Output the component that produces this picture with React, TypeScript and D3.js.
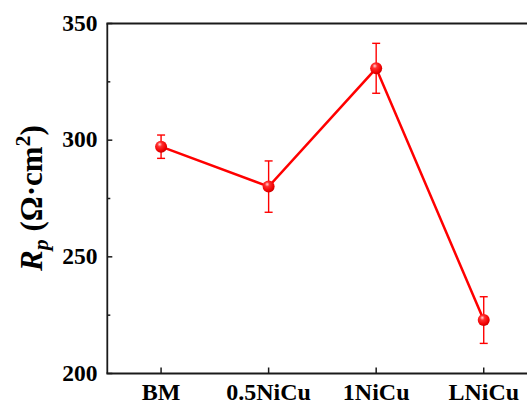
import React from 'react';
import * as d3 from 'd3';

const categories = ['BM', '0.5NiCu', '1NiCu', 'LNiCu'];
const rpValues = [297.2, 280.1, 330.8, 222.9];
const rpErrors = [5, 11, 10.7, 10];
const yTicks = [200, 250, 300, 350];
const yMinorTicks = [225, 275, 325];

export default function App() {
  const width = 527;
  const height = 403;
  const left = 107.3;
  const right = 537.5; // plot runs past the picture edge
  const top = 23.5;
  const bottom = 373.5;

  const x = d3.scalePoint<string>().domain(categories).range([left, right]).padding(0.5);
  const y = d3.scaleLinear().domain([200, 350]).range([bottom, top]);

  const data = categories.map((c, i) => ({ c, v: rpValues[i], e: rpErrors[i] }));
  const line = d3.line<{ c: string; v: number }>()
    .x(d => x(d.c)!)
    .y(d => y(d.v));

  const font = "'Liberation Serif', 'Times New Roman', serif";
  const axisColor = '#1a1a1a';
  const red = '#ff0000';

  return (
    <div style={{ position: 'fixed', left: 0, top: 0 }}>
      <svg width={width} height={height} style={{ display: 'block', background: '#fff', fontFamily: font }}>
        <defs>
          <radialGradient id="ball" cx="40%" cy="35%" r="65%" fx="38%" fy="30%">
            <stop offset="0%" stopColor="#ffd6d6" />
            <stop offset="30%" stopColor="#ff3030" />
            <stop offset="80%" stopColor="#f00000" />
            <stop offset="100%" stopColor="#c80000" />
          </radialGradient>
        </defs>

        {/* axes frame: left, bottom, top */}
        <line x1={left} x2={left} y1={top} y2={bottom} stroke={axisColor} strokeWidth={1.8} />
        <line x1={left - 0.9} x2={width} y1={bottom} y2={bottom} stroke={axisColor} strokeWidth={1.8} />
        <line x1={left - 0.9} x2={width} y1={top} y2={top} stroke={axisColor} strokeWidth={1.8} />

        {/* y ticks */}
        {yTicks.map(t => (
          <g key={t}>
            <line x1={left} x2={left + 5} y1={y(t)} y2={y(t)} stroke={axisColor} strokeWidth={1.5} />
            <text x={97.5} y={y(t) + 7} textAnchor="end" fontWeight="bold" fontSize={23.5} fill="#000">{t}</text>
          </g>
        ))}
        {yMinorTicks.map(t => (
          <line key={t} x1={left} x2={left + 3} y1={y(t)} y2={y(t)} stroke={axisColor} strokeWidth={1.5} />
        ))}

        {/* x ticks */}
        {categories.map(c => (
          <g key={c}>
            <line x1={x(c)} x2={x(c)} y1={bottom} y2={bottom - 6} stroke={axisColor} strokeWidth={1.5} />
            <text x={x(c)} y={399.5} textAnchor="middle" fontWeight="bold" fontSize={24} fill="#000">{c}</text>
          </g>
        ))}

        {/* y axis title */}
        <text transform="translate(42,198) rotate(-90)" textAnchor="middle" fontWeight="bold" fontSize={31} fill="#000">
          <tspan fontStyle="italic">R</tspan>
          <tspan fontStyle="italic" fontSize={22} dy={6}>p</tspan>
          <tspan dy={-6}> (Ω·cm</tspan>
          <tspan fontSize={22} dy={-12}>2</tspan>
          <tspan dy={12}>)</tspan>
        </text>

        {/* series line */}
        <path d={line(data)!} fill="none" stroke={red} strokeWidth={2.5} />

        {/* error bars */}
        {data.map(d => (
          <g key={`err-${d.c}`} stroke={red} strokeWidth={1.4}>
            <line x1={x(d.c)} x2={x(d.c)} y1={y(d.v + d.e)} y2={y(d.v - d.e)} />
            <line x1={x(d.c)! - 4} x2={x(d.c)! + 4} y1={y(d.v + d.e)} y2={y(d.v + d.e)} />
            <line x1={x(d.c)! - 4} x2={x(d.c)! + 4} y1={y(d.v - d.e)} y2={y(d.v - d.e)} />
          </g>
        ))}

        {/* sphere markers */}
        {data.map(d => (
          <circle key={`pt-${d.c}`} cx={x(d.c)} cy={y(d.v)} r={6} fill="url(#ball)" />
        ))}
      </svg>
    </div>
  );
}
